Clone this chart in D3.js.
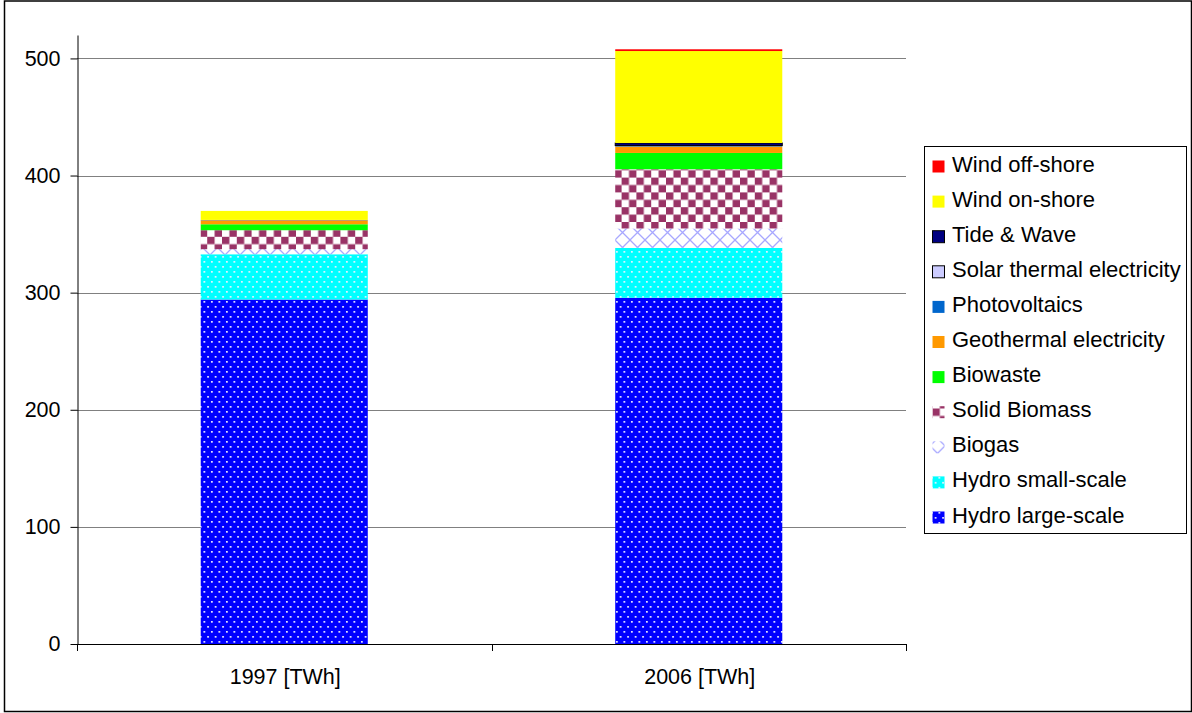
<!DOCTYPE html>
<html>
<head>
<meta charset="utf-8">
<script src="https://cdn.jsdelivr.net/npm/d3@7"></script>
<style>
body { margin: 0; background: #fff; }
text { font-family: "Liberation Sans", Arial, sans-serif; fill: #000; }
</style>
</head>
<body>
<div id="chart"></div>
<script>
// data (TWh), bottom of the stack first
var categories = ["1997 [TWh]", "2006 [TWh]"];
var sources = ["Hydro large-scale", "Hydro small-scale", "Biogas", "Solid Biomass", "Biowaste",
	"Geothermal electricity", "Photovoltaics", "Solar thermal electricity", "Tide & Wave",
	"Wind on-shore", "Wind off-shore"];
var values1997 = [294.1, 38.7, 4.3, 16.2, 5.1, 3.4, 0.3, 0, 0, 7.7, 0];
var values2006 = [295.6, 42.6, 16.6, 50.6, 13.9, 5.5, 0.8, 0, 2.2, 78.5, 1.5];
var yTicks = [0, 100, 200, 300, 400, 500];

var fills = ["url(#dotsBlue)", "url(#dotsCyan)", "url(#lattice)", "url(#checker)", "#00ff00",
	"#ff9900", "#0066cc", "#ccccff", "#000080", "#ffff00", "#ff0000"];
var outlined = ["Solar thermal electricity", "Tide & Wave"];

var rows = categories.map(function(c, i) {
	var r = { cat: c };
	var vals = i === 0 ? values1997 : values2006;
	sources.forEach(function(s, j) { r[s] = vals[j]; });
	return r;
});

var svg = d3.select("#chart")
	.append("svg")
	.attr("width", 1192)
	.attr("height", 713)
	;

// fill patterns like the excel ones
var defs = svg.append("defs");
function dots(id, bg) {
	var p = defs.append("pattern").attr("id", id)
		.attr("patternUnits", "userSpaceOnUse")
		.attr("width", 7.5).attr("height", 10);
	p.append("rect").attr("width", 7.5).attr("height", 10).attr("fill", bg);
	[[1, 1], [4.75, 6]].forEach(function(d) {
		p.append("rect").attr("x", d[0]).attr("y", d[1])
			.attr("width", 1.7).attr("height", 1.7).attr("fill", "#f0f0ff");
	});
}
dots("dotsBlue", "#0000ff");
dots("dotsCyan", "#00ffff");

var lat = defs.append("pattern").attr("id", "lattice")
	.attr("patternUnits", "userSpaceOnUse")
	.attr("width", 15).attr("height", 15);
lat.append("rect").attr("width", 15).attr("height", 15).attr("fill", "#fff");
lat.append("path").attr("d", "M0,0L15,15M15,0L0,15")
	.attr("stroke", "#a8a8ff").attr("stroke-width", 1.3).attr("fill", "none");

var chk = defs.append("pattern").attr("id", "checker")
	.attr("patternUnits", "userSpaceOnUse")
	.attr("width", 14.8).attr("height", 14.8);
chk.append("rect").attr("width", 14.8).attr("height", 14.8).attr("fill", "#fff");
chk.append("rect").attr("width", 7.4).attr("height", 7.4).attr("fill", "#993366");
chk.append("rect").attr("x", 7.4).attr("y", 7.4).attr("width", 7.4).attr("height", 7.4).attr("fill", "#993366");

var x = d3.scaleBand()
	.domain(categories)
	.range([77, 906])
	.paddingInner(0.597)
	.paddingOuter(0.2985)
	;
var y = d3.scaleLinear()
	.domain([0, 520])
	.range([644, 35])
	;

// gridlines
svg.append("g")
	.selectAll("line")
	.data(yTicks.slice(1))
	.enter().append("line")
	.attr("x1", 77)
	.attr("x2", 906)
	.attr("y1", function(d) { return Math.round(y(d)) + 0.5; })
	.attr("y2", function(d) { return Math.round(y(d)) + 0.5; })
	.attr("stroke", "#808080")
	;

// stacked bars
var series = d3.stack().keys(sources)(rows);
svg.append("g")
	.selectAll("g")
	.data(series)
	.enter().append("g")
	.attr("fill", function(d, i) { return fills[i]; })
	.attr("stroke", function(d) { return outlined.indexOf(d.key) >= 0 ? "#000" : "none"; })
	.selectAll("rect")
	.data(function(d) { return d.filter(function(p) { return p[1] - p[0] > 0; }); })
	.enter().append("rect")
	.attr("x", function(d) { return x(d.data.cat); })
	.attr("width", x.bandwidth())
	.attr("y", function(d) { return y(d[1]); })
	.attr("height", function(d) { return y(d[0]) - y(d[1]); })
	;

// y axis
var yAxis = svg.append("g")
	.attr("transform", "translate(77.5,0)")
	.call(d3.axisLeft(y).tickValues(yTicks).tickSize(7).tickSizeOuter(0).tickPadding(10));
yAxis.select(".domain").attr("stroke", "#000");
yAxis.selectAll("line").attr("stroke", "#000");
yAxis.selectAll("text").attr("font-size", 21.5).attr("font-family", "Liberation Sans, Arial, sans-serif");

// x axis: line, boundary ticks, labels
var xg = svg.append("g");
xg.append("line")
	.attr("x1", 77).attr("x2", 906)
	.attr("y1", 644.5).attr("y2", 644.5)
	.attr("stroke", "#000");
xg.selectAll(".tick")
	.data(d3.range(categories.length + 1))
	.enter().append("line")
	.attr("x1", function(i) { return Math.round(x.range()[0] + i * x.step()) + 0.5; })
	.attr("x2", function(i) { return Math.round(x.range()[0] + i * x.step()) + 0.5; })
	.attr("y1", 644)
	.attr("y2", 651)
	.attr("stroke", "#000");
xg.selectAll("text")
	.data(categories)
	.enter().append("text")
	.attr("x", function(d) { return x(d) + x.bandwidth() / 2 + 1; })
	.attr("y", 684)
	.attr("text-anchor", "middle")
	.attr("font-size", 21.5)
	.text(function(d) { return d; });

// legend
var legend = svg.append("g");
legend.append("rect")
	.attr("x", 924.5).attr("y", 146.5)
	.attr("width", 262).attr("height", 387)
	.attr("fill", "#fff")
	.attr("stroke", "#000");
var items = legend.selectAll(".item")
	.data(sources.map(function(s, i) { return { name: s, fill: fills[i] }; }).reverse())
	.enter().append("g")
	.attr("transform", function(d, i) { return "translate(0," + (35.1 * i) + ")"; });
items.append("rect")
	.attr("x", 932.5).attr("y", 160.5)
	.attr("width", 12).attr("height", 12)
	.attr("fill", function(d) { return d.fill; })
	.attr("stroke", function(d) { return outlined.indexOf(d.name) >= 0 ? "#000" : "none"; });
items.append("text")
	.attr("x", 952)
	.attr("y", 171.5)
	.attr("font-size", 22)
	.text(function(d) { return d.name; });

// chart border
svg.append("rect")
	.attr("x", 4.5).attr("y", 1)
	.attr("width", 1187).attr("height", 710.5)
	.attr("fill", "none")
	.attr("stroke", "#000")
	.attr("stroke-width", 1.5);
</script>
</body>
</html>
